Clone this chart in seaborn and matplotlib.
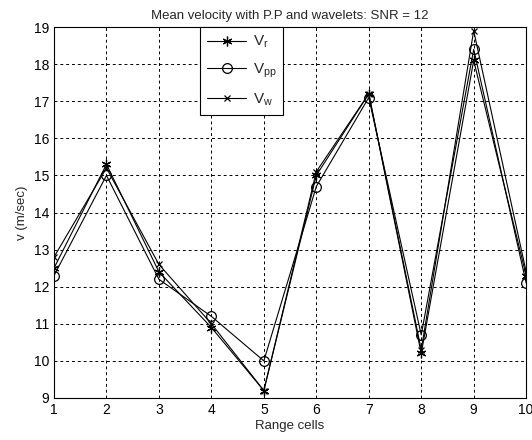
import numpy as np
import pandas as pd
import matplotlib
matplotlib.use("Agg")
import matplotlib.pyplot as plt
import seaborn as sns

# -------------------------------------------------------
# DATA
# -------------------------------------------------------
range_cells = [1, 2, 3, 4, 5, 6, 7, 8, 9, 10]
v_r  = [12.5, 15.3, 12.4, 10.9, 9.2, 15.0, 17.2, 10.2, 18.1, 12.3]
v_pp = [12.3, 15.0, 12.2, 11.2, 10.0, 14.7, 17.1, 10.7, 18.4, 12.1]
v_w  = [12.8, 15.2, 12.6, 11.0, 9.2, 15.1, 17.2, 10.3, 18.9, 12.4]

series_names = ["$\\mathregular{V_r}$", "$\\mathregular{V_{pp}}$", "$\\mathregular{V_w}$"]
series_markers = [(6, 2, 0), "o", "x"]
series_sizes = [7, 7, 5]

sns.set_style("white")
plt.rcParams["font.family"] = ["Liberation Sans", "DejaVu Sans"]
plt.rcParams["mathtext.fontset"] = "custom"
plt.rcParams["mathtext.rm"] = "Liberation Sans"

fig = plt.figure(figsize=(5.32, 4.4), dpi=100)
ax = fig.add_axes([0.1015, 0.0955, 0.8875, 0.843])

for vals, name, mk, ms in zip([v_r, v_pp, v_w], series_names, series_markers, series_sizes):
    sns.lineplot(
        x=range_cells, y=vals, label=name, color="black",
        marker=mk, linewidth=0.8, markersize=ms,
        markerfacecolor="none",
        markeredgecolor="black", markeredgewidth=0.9, ax=ax,
    )

ax.set_xlim(1, 10)
ax.set_ylim(9, 19)
ax.set_xticks(range_cells)
ax.set_yticks(range(9, 20))
ax.grid(True, color="black", linestyle=(0, (3, 3)), linewidth=0.7)
for s in ax.spines.values():
    s.set_color("black")
    s.set_linewidth(0.8)
ax.tick_params(axis="both", labelsize=10, direction="in", length=3, colors="black")

ax.set_xlabel("Range cells", fontsize=9.5, labelpad=2)
ax.set_ylabel("v (m/sec)", fontsize=9.5, labelpad=4)
ax.set_title("Mean velocity with P.P and wavelets: SNR = 12", fontsize=9.5, pad=6)

leg = ax.legend(loc="upper left", bbox_to_anchor=(0.309, 1.0), fontsize=11,
                frameon=True, fancybox=False, edgecolor="black",
                handlelength=2.6, handletextpad=0.4, borderpad=0.45,
                labelspacing=0.75, borderaxespad=0, framealpha=1)
leg.get_frame().set_linewidth(0.8)

fig.savefig("out.png", dpi=100)
